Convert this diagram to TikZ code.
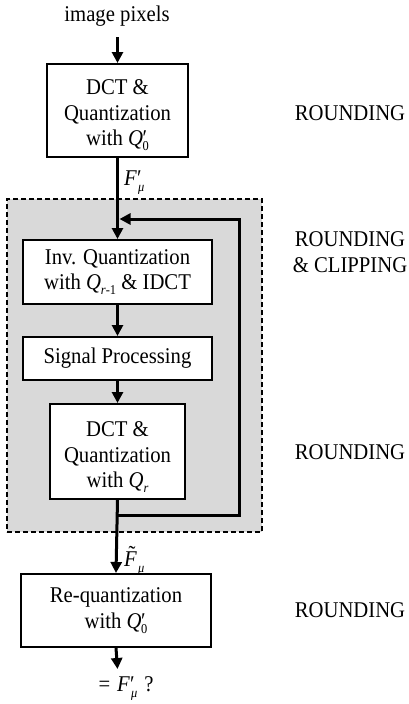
\documentclass[tikz,border=0pt]{standalone}
\usepackage{fontspec}
\setmainfont{Liberation Serif}[FakeStretch=0.92]
\usetikzlibrary{arrows.meta}
\newcommand{\mainsz}{\fontsize{22.5}{25.5}\selectfont}
\newcommand{\subsz}{\fontsize{13.5}{13.5}\selectfont}
\newcommand{\Qnot}{\textit{Q}\kern-0.5pt\rlap{\char"2032}\raisebox{-0.22em}{\subsz 0}}
\newcommand{\Qr}{\textit{Q}\raisebox{-0.22em}{\subsz\textit{r}}}
\newcommand{\Qrm}{\textit{Q}\raisebox{-0.22em}{\subsz\textit{r}-1}}
\newcommand{\Fmu}{\textit{F}\rlap{\char"2032}\raisebox{-0.3em}{\subsz\kern1pt\textit{μ}}}
\newcommand{\Ftmu}{{\ooalign{\textit{F}\cr\hidewidth\kern3pt\raisebox{0.2em}{\char"02DC}\hidewidth\cr}}\raisebox{-0.3em}{\subsz\kern1pt\textit{μ}}}
\definecolor{boxgray}{HTML}{D9D9D9}
\tikzset{
  blk/.style={draw, line width=2pt, fill=white, align=center, inner sep=0pt},
  btext/.style={align=center, inner sep=0pt},
  flow/.style={line width=3pt, -{Triangle[length=11pt,width=11pt]}},
  note/.style={align=center, anchor=base},
  lbl/.style={anchor=base west, inner sep=0pt},
}
\begin{document}
\begin{tikzpicture}[x=1pt,y=-1pt,font=\mainsz]
\useasboundingbox (0,0) rectangle (409,704);
% gray iteration area
\node[draw, dashed, dash pattern=on 5pt off 3pt, line width=1.2pt, fill=boxgray,
      minimum width=255pt, minimum height=333pt, inner sep=0pt] (area) at (134.5,365.5) {};
% text
\node[note] (img) at (117,21) {image pixels};
\node[blk, minimum width=141pt, minimum height=93pt] (b1) at (117.5,110.5) {};
\node[btext] (b1t) at (117.5,115.5) {DCT \&\\Quantization\\with \Qnot};
\node[blk, minimum width=189pt, minimum height=64pt] (b2) at (117.5,272) {Inv. Quantization\\with \Qrm{} \& IDCT};
\node[blk, minimum width=189pt, minimum height=43pt] (b3) at (117.5,358.5) {Signal Processing};
\node[blk, minimum width=135pt, minimum height=95pt] (b4) at (117.5,451.5) {};
\node[btext] (b4t) at (117.5,457) {DCT \&\\Quantization\\with \Qr};
\node[blk, minimum width=190pt, minimum height=73pt] (b5) at (116,610.5) {Re-quantization\\with \Qnot};
\node[note] (r1) at (350,120) {ROUNDING};
\node[note] (r2) at (350,272) {ROUNDING\\\& CLIPPING};
\node[note] (r3) at (350,459) {ROUNDING};
\node[note] (r4) at (350,617) {ROUNDING};
\node[lbl] (f1) at (124,185) {\Fmu};
\node[lbl] (f2) at (124,566) {\Ftmu};
\node[note] (res) at (126,691) {=\hspace{7pt}\Fmu\hspace{7pt}?};
% coordinates
\coordinate (in) at (117.5,37);
\coordinate (out) at (117.5,669);
\coordinate (lb) at (117.5,515);
\coordinate (rb) at (239,515);
\coordinate (rt) at (239,219);
\coordinate (lt) at (119.5,219);
% connectors
\draw[flow] (in) -- (b1.north);
\draw[flow] (b1.south) -- (b2.north);
\draw[flow] (b2.south) -- (b3.north);
\draw[flow] (b3.south) -- (b4.north);
\draw[flow] (b4.south) -- (b5.north);
\draw[flow] (b5.south) -- (out);
\draw[flow] (lb) -- (rb) -- (rt) -- (lt);
\end{tikzpicture}
\end{document}
